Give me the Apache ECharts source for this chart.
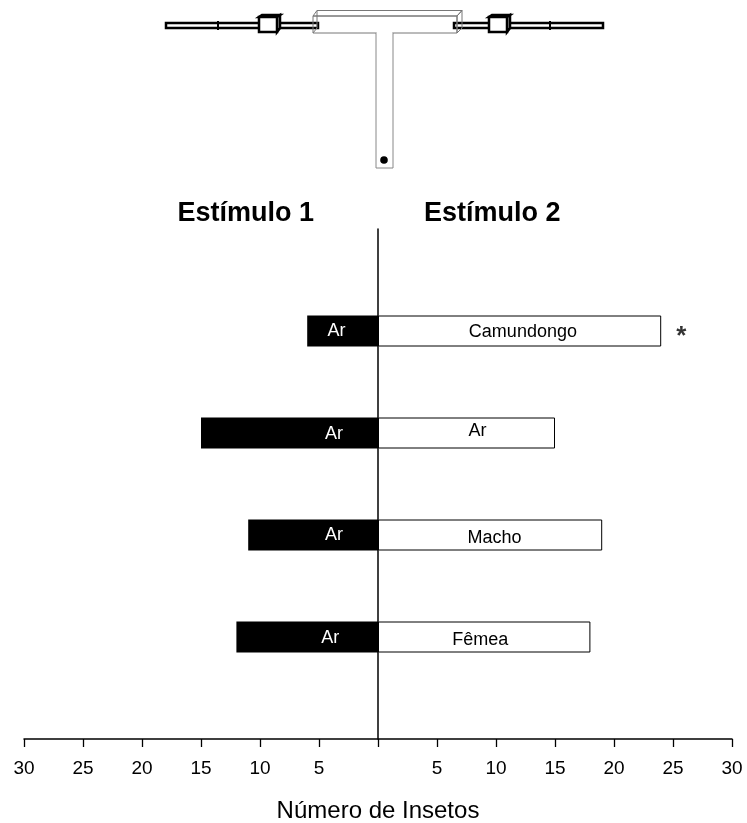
<!DOCTYPE html>
<html><head><meta charset="utf-8">
<style>html,body{margin:0;padding:0;background:#fff}#c{width:747px;height:823px}</style>
<script src="https://cdn.jsdelivr.net/npm/echarts@6/dist/echarts.min.js"></script>
</head><body><div id="c"></div>
<script>
const stimulus2 = ['Camundongo','Ar','Macho','Fêmea'];
const stimulus1 = ['Ar','Ar','Ar','Ar'];
const countLeft = [6,15,11,12];
const countRight = [24,15,19,18];
const significant = [['*',25.7]];
const xTicks = {min:-30,max:30,interval:5};

const leftOffsets = [[-6,0.5],[44.5,1.5],[21,0.5],[23,1]];
const rightOffsets = [[3.3,1],[11,-1.5],[4.5,3.5],[-4,3.5]];
const FONT = '"Liberation Sans",Arial,sans-serif';
const slots = ['', ...stimulus2, ''];
const pad = a => [null, ...a, null];

const thin = {stroke:'#777',lineWidth:1,fill:'none'};
const thick = {stroke:'#000',lineWidth:2.5,fill:'#fff'};
const boxStyle = {stroke:'#000',lineWidth:2.5,fill:'#fff'};
const poly = (points,style,z) => ({type:'polygon',shape:{points},style,z:z||10});
const rect = (x,y,width,height,style,z) => ({type:'rect',shape:{x,y,width,height},style,z:z||10});
const line = (x1,y1,x2,y2,style,z) => ({type:'line',shape:{x1,y1,x2,y2},style,z:z||12});
const apparatus = [
  rect(166,23,152,5,thick), rect(454,23,149,5,thick),
  line(218,21,218,30,{stroke:'#000',lineWidth:2}), line(550,21,550,30,{stroke:'#000',lineWidth:2}),
  poly([[259,17],[262,15],[280,15],[277,17]],boxStyle,13),
  poly([[277,17],[280,15],[280,28],[277,32]],boxStyle,13),
  rect(259,17,18,15,boxStyle,13),
  poly([[489,17],[492,15],[510,15],[507,17]],boxStyle,13),
  poly([[507,17],[510,15],[510,28],[507,32]],boxStyle,13),
  rect(489,17,18,15,boxStyle,13),
  rect(376,33,17,135,{stroke:'#888',lineWidth:1,fill:'#fff'},11),
  rect(313,16,144,17,thin,14),
  poly([[313,16],[317,10.5],[462,10.5],[457,16]],thin,14),
  poly([[457,16],[462,10.5],[462,28],[457,33]],thin,14),
  line(317,10.5,317,28,thin,14), line(313,33,317,28,thin,14),
  line(376.5,33,392.5,33,{stroke:'#fff',lineWidth:2},15),
  {type:'circle',shape:{cx:384,cy:160,r:3.8},style:{fill:'#000'},z:15}
];

const heading = (text,left) => ({type:'text',x:left,y:213.5,style:{text,font:'bold 27px '+FONT,fill:'#000',textVerticalAlign:'middle'},z:20});

const chart = echarts.init(document.getElementById('c'),null,{renderer:'canvas'});
chart.setOption({
  animation:false,
  backgroundColor:'#fff',
  grid:{left:24,right:15,top:229,bottom:84,outerBoundsMode:'none'},
  xAxis:{
    type:'value',...xTicks,position:'bottom',
    name:'Número de Insetos',nameLocation:'middle',nameGap:60,
    nameTextStyle:{fontFamily:FONT,fontSize:24,color:'#000'},
    splitLine:{show:false},
    axisLine:{show:true,onZero:false,lineStyle:{color:'#000',width:1.5}},
    axisTick:{show:true,length:8,lineStyle:{color:'#000',width:1.3}},
    axisLabel:{margin:20,fontFamily:FONT,fontSize:19,color:'#000',showMinLabel:true,showMaxLabel:true,
      formatter:v=>v===0?'':String(Math.abs(v))}
  },
  yAxis:{
    type:'category',inverse:true,boundaryGap:false,data:slots,
    axisLine:{show:true,onZero:true,lineStyle:{color:'#000',width:1.5}},
    axisTick:{show:false},axisLabel:{show:false},splitLine:{show:false}
  },
  series:[
    {type:'bar',name:'Estímulo 1',barWidth:31,barGap:'-100%',
      data:pad(countLeft).map(v=>v==null?null:-v),
      itemStyle:{color:'#000'},
      label:{show:true,position:'inside',color:'#fff',fontFamily:FONT,fontSize:18,
        formatter:p=>stimulus1[p.dataIndex-1]},
      labelLayout:p=>{const o=leftOffsets[p.dataIndex-1];return {dx:o[0],dy:o[1]};}},
    {type:'bar',name:'Estímulo 2',barWidth:31,barGap:'-100%',
      data:pad(countRight),
      itemStyle:{color:'#fff',borderColor:'#000',borderWidth:1},
      label:{show:true,position:'inside',color:'#000',fontFamily:FONT,fontSize:18,
        formatter:p=>stimulus2[p.dataIndex-1]},
      labelLayout:p=>{const o=rightOffsets[p.dataIndex-1];return {dx:o[0],dy:o[1]};}},
    {type:'scatter',symbolSize:0,silent:true,
      data:significant.map(s=>[s[1],1,s[0]]),
      label:{show:true,position:'inside',color:'#000',fontFamily:FONT,fontWeight:'bold',fontSize:26,
        offset:[0,5.5],formatter:p=>p.value[2]}}
  ],
  graphic:{elements:[...apparatus,heading('Estímulo 1',177.5),heading('Estímulo 2',424)]}
});
</script></body></html>
